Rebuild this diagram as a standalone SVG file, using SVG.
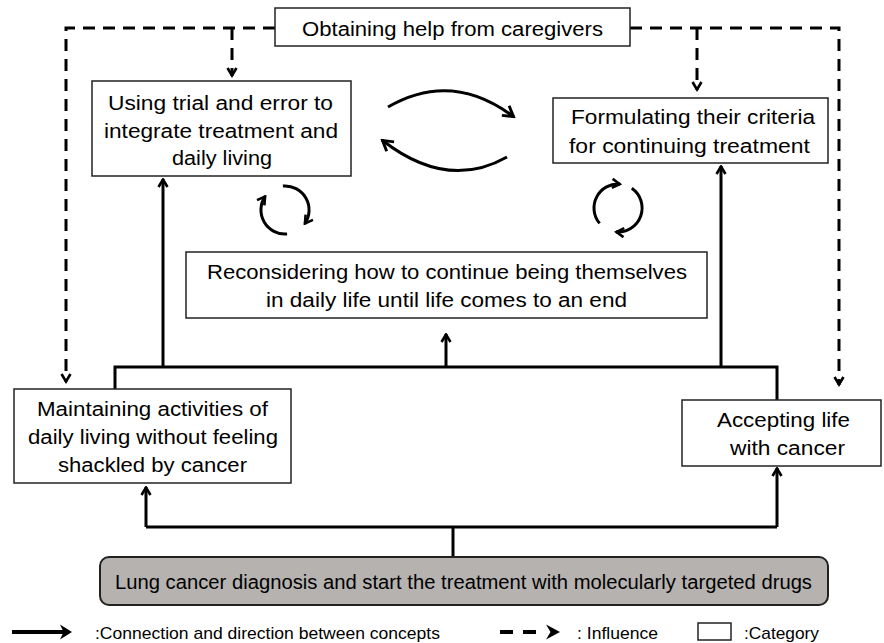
<svg xmlns="http://www.w3.org/2000/svg" width="884" height="643" viewBox="0 0 884 643">
<style>
  .box { fill: #fff; stroke: #222; stroke-width: 1.5; }
  .gbox { fill: #b5b2b0; stroke: #222; stroke-width: 2; }
  .t { font-family: "Liberation Sans", Arial, sans-serif; font-size: 20px; fill: #000; }
  .tl { font-family: "Liberation Sans", Arial, sans-serif; font-size: 17px; fill: #000; }
  .sol { fill: none; stroke: #000; stroke-width: 3; }
  .dash { fill: none; stroke: #000; stroke-width: 3; stroke-dasharray: 12 8; }
</style>
<defs>
  <marker id="ah" viewBox="0 0 12 12" refX="10.5" refY="6" markerWidth="12" markerHeight="12" markerUnits="userSpaceOnUse" orient="auto">
    <path d="M2.5,1.5 L10,6 L2.5,10.5" fill="none" stroke="#000" stroke-width="2.6"/>
  </marker>
  <marker id="ahL" viewBox="0 0 12 12" refX="10.5" refY="6" markerWidth="16" markerHeight="16" markerUnits="userSpaceOnUse" orient="auto">
    <path d="M2.5,1.5 L10,6 L2.5,10.5" fill="none" stroke="#000" stroke-width="2.2"/>
  </marker>
</defs>
<rect width="884" height="643" fill="#fff"/>

<g id="connectors">
  <!-- influence (dashed) -->
  <path class="dash" d="M275,28 H66 V382" marker-end="url(#ah)"/>
  <path class="dash" d="M232,28 V76" marker-end="url(#ah)"/>
  <path class="dash" d="M630,28 H839 V385" marker-end="url(#ah)"/>
  <path class="dash" d="M697,28 V90" marker-end="url(#ah)"/>
  <!-- bottom trunk -->
  <path class="sol" d="M453,557 V527"/>
  <path class="sol" d="M146,527 H777"/>
  <path class="sol" d="M146,527 V487" marker-end="url(#ah)"/>
  <path class="sol" d="M777,527 V468" marker-end="url(#ah)"/>
  <!-- upper trunk -->
  <path class="sol" d="M115,389 V367 H777 V400"/>
  <path class="sol" d="M163,367 V179" marker-end="url(#ah)"/>
  <path class="sol" d="M721,367 V166" marker-end="url(#ah)"/>
  <path class="sol" d="M446,367 V334" marker-end="url(#ah)"/>
  <!-- mutual arrows between upper boxes -->
  <path class="sol" d="M388,107 Q452,70 514,117" marker-end="url(#ahL)"/>
  <path class="sol" d="M507,157 Q447,191 382,140" marker-end="url(#ahL)"/>
  <!-- cycle arrows left -->
  <path class="sol" d="M282.9,186.1 A24,24 0 0 1 304.7,223.8" marker-end="url(#ah)"/>
  <path class="sol" d="M287.1,233.9 A24,24 0 0 1 265.3,196.2" marker-end="url(#ah)"/>
  <!-- cycle arrows right -->
  <path class="sol" d="M631.8,188.3 A24,24 0 0 1 615.9,231.9" marker-end="url(#ah)"/>
  <path class="sol" d="M599.6,223.4 A24,24 0 0 1 620.2,184.1" marker-end="url(#ah)"/>
</g>

<g id="caregivers">
  <rect class="box" x="275" y="8" width="355" height="38"/>
  <text class="t" x="302" y="36" textLength="301" lengthAdjust="spacingAndGlyphs">Obtaining help from caregivers</text>
</g>

<g id="trial-error">
  <rect class="box" x="92" y="81" width="259" height="95"/>
  <text class="t" x="108" y="110" textLength="225" lengthAdjust="spacingAndGlyphs">Using trial and error to</text>
  <text class="t" x="104" y="138" textLength="234" lengthAdjust="spacingAndGlyphs">integrate treatment and</text>
  <text class="t" x="172" y="165" textLength="100" lengthAdjust="spacingAndGlyphs">daily living</text>
</g>

<g id="criteria">
  <rect class="box" x="553" y="98" width="275" height="65"/>
  <text class="t" x="571" y="124" textLength="244" lengthAdjust="spacingAndGlyphs">Formulating their criteria</text>
  <text class="t" x="569" y="153" textLength="241" lengthAdjust="spacingAndGlyphs">for continuing treatment</text>
</g>

<g id="reconsidering">
  <rect class="box" x="186" y="252" width="521" height="66"/>
  <text class="t" x="207" y="279" textLength="480" lengthAdjust="spacingAndGlyphs">Reconsidering how to continue being themselves</text>
  <text class="t" x="266" y="307" textLength="361" lengthAdjust="spacingAndGlyphs">in daily life until life comes to an end</text>
</g>

<g id="maintaining">
  <rect class="box" x="14" y="389" width="277" height="94"/>
  <text class="t" x="37" y="416" textLength="231" lengthAdjust="spacingAndGlyphs">Maintaining activities of</text>
  <text class="t" x="28" y="444" textLength="250" lengthAdjust="spacingAndGlyphs">daily living without feeling</text>
  <text class="t" x="58" y="472" textLength="189" lengthAdjust="spacingAndGlyphs">shackled by cancer</text>
</g>

<g id="accepting">
  <rect class="box" x="682" y="400" width="199" height="66"/>
  <text class="t" x="717" y="427" textLength="133" lengthAdjust="spacingAndGlyphs">Accepting life</text>
  <text class="t" x="730" y="455" textLength="115" lengthAdjust="spacingAndGlyphs">with cancer</text>
</g>

<g id="diagnosis">
  <rect class="gbox" x="100" y="557" width="728" height="48" rx="9" ry="9"/>
  <text class="t" x="115" y="589" textLength="697" lengthAdjust="spacingAndGlyphs">Lung cancer diagnosis and start the treatment with molecularly targeted drugs</text>
</g>

<g id="legend">
  <path d="M12,632 H64" stroke="#000" stroke-width="4" fill="none"/>
  <path d="M60,624.5 L72,632 L60,639.5 L63.5,632 Z" fill="#000"/>
  <text class="tl" x="95" y="639" textLength="345" lengthAdjust="spacingAndGlyphs">:Connection and direction between concepts</text>
  <path d="M500,632 H538" stroke="#000" stroke-width="4" stroke-dasharray="13 10" fill="none"/>
  <path d="M546,624.5 L560,632 L546,639.5 L550.5,632 Z" fill="#000"/>
  <text class="tl" x="577" y="639" textLength="81" lengthAdjust="spacingAndGlyphs">: Influence</text>
  <rect x="698" y="623" width="33" height="17" fill="#fff" stroke="#222" stroke-width="1.5"/>
  <text class="tl" x="744" y="639" textLength="75" lengthAdjust="spacingAndGlyphs">:Category</text>
</g>
</svg>
